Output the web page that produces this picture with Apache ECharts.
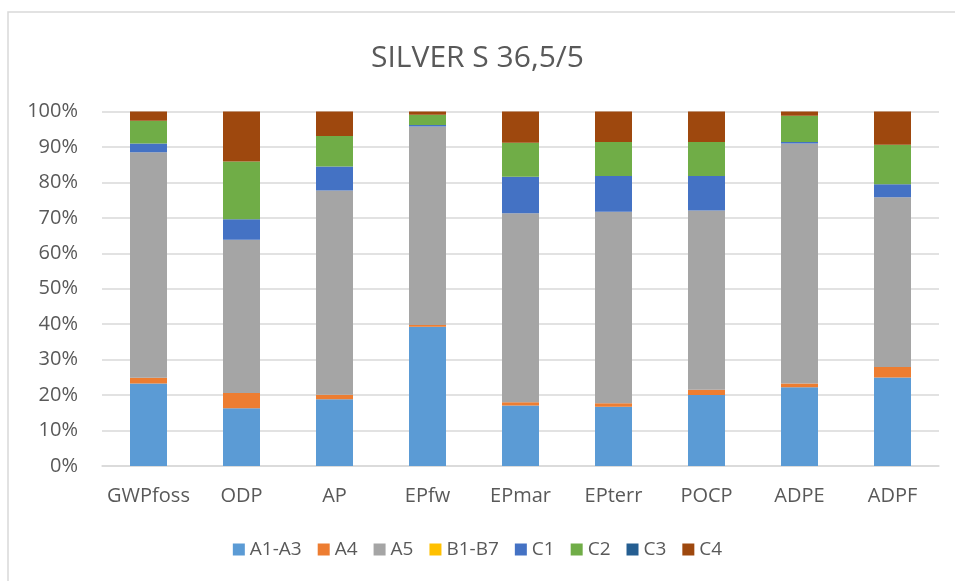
<!DOCTYPE html>
<html>
<head>
<meta charset="utf-8">
<script src="https://cdn.jsdelivr.net/npm/echarts@6/dist/echarts.min.js"></script>
<style>
  html, body { margin: 0; padding: 0; background: #fff; }
  #main { width: 955px; height: 581px; }
</style>
</head>
<body>
<div id="main"></div>
<script>
var categories = ['GWPfoss', 'ODP', 'AP', 'EPfw', 'EPmar', 'EPterr', 'POCP', 'ADPE', 'ADPF'];
var seriesNames = ['A1-A3', 'A4', 'A5', 'B1-B7', 'C1', 'C2', 'C3', 'C4'];
var colors = ['#5b9bd5', '#ed7d31', '#a5a5a5', '#ffc000', '#4472c4', '#70ad47', '#255e91', '#9e480e'];

// shares in percent
var a1a3 = [23.3, 16.3, 18.8, 39.3, 17.1, 16.7, 20.0, 22.2, 25.0];
var a4   = [1.6, 4.3, 1.3, 0.5, 0.9, 1.0, 1.5, 1.1, 2.9];
var a5   = [63.6, 43.2, 57.6, 56.0, 53.3, 54.0, 50.6, 67.7, 47.9];
var b1b7 = [0, 0, 0, 0, 0, 0, 0, 0, 0];
var c1   = [2.5, 5.8, 6.8, 0.4, 10.3, 10.1, 9.7, 0.4, 3.7];
var c2   = [6.4, 16.3, 8.6, 2.9, 9.6, 9.6, 9.6, 7.4, 11.1];
var c3   = [0, 0, 0, 0, 0, 0, 0, 0, 0];
var c4   = [2.6, 14.1, 6.9, 0.9, 8.8, 8.6, 8.6, 1.2, 9.4];

var values = [a1a3, a4, a5, b1b7, c1, c2, c3, c4];
var font = 'Open Sans';

var myChart = echarts.init(document.getElementById('main'));

var option = {
  animation: false,
  color: colors,
  title: {
    text: 'SILVER S 36,5/5',
    left: 'center',
    top: 38,
    textStyle: { fontFamily: font, fontSize: 30, fontWeight: 'normal', color: '#595959' }
  },
  graphic: [{
    type: 'rect',
    shape: { x: 8, y: 12, width: 1000, height: 700 },
    style: { fill: 'none', stroke: '#d9d9d9', lineWidth: 1.5 },
    silent: true
  }],
  legend: {
    data: seriesNames,
    bottom: 17,
    left: 'center',
    itemWidth: 12,
    itemHeight: 12,
    itemGap: 16,
    icon: 'rect',
    textStyle: { fontFamily: font, fontSize: 19, color: '#595959' }
  },
  grid: { left: 102, right: 16, top: 111.5, bottom: 115, containLabel: false },
  xAxis: {
    type: 'category',
    data: categories,
    axisLine: { lineStyle: { color: '#d9d9d9', width: 1.5 } },
    axisTick: { show: false },
    axisLabel: { interval: 0, fontFamily: font, fontSize: 20, color: '#595959', margin: 20 }
  },
  yAxis: {
    type: 'value',
    min: 0,
    max: 100,
    interval: 10,
    axisLine: { show: false },
    axisTick: { show: false },
    splitLine: { lineStyle: { color: '#d9d9d9', width: 1.5 } },
    axisLabel: { formatter: '{value}%', fontFamily: font, fontSize: 20, color: '#595959', margin: 24 }
  },
  series: seriesNames.map(function (name, i) {
    return {
      name: name,
      type: 'bar',
      stack: 'total',
      barWidth: 37,
      data: values[i]
    };
  })
};

myChart.setOption(option);
</script>
</body>
</html>
